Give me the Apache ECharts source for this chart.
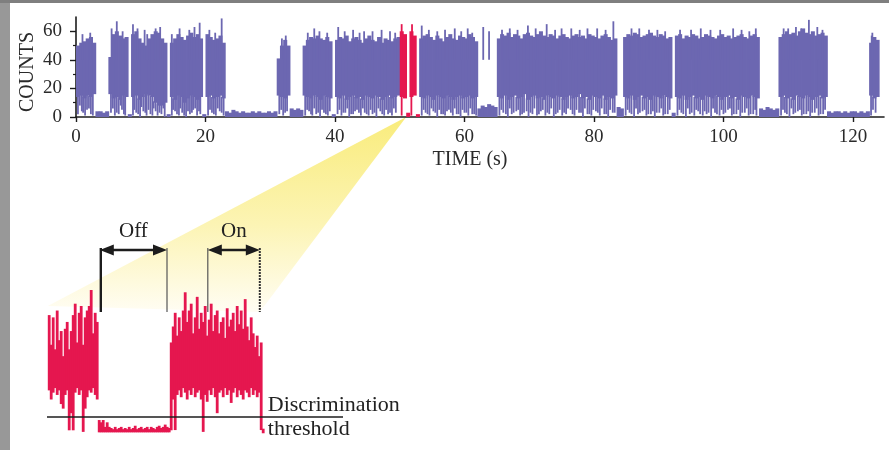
<!DOCTYPE html>
<html>
<head>
<meta charset="utf-8">
<script src="https://cdn.jsdelivr.net/npm/echarts@6/dist/echarts.min.js"></script>
<style>
  html, body { margin: 0; padding: 0; background: #fff; }
  #chart { width: 889px; height: 450px; }
  .edge { position: absolute; left: 0; top: 0; }
</style>
</head>
<body>
<div id="chart"></div>
<div class="edge" style="width:10px;height:450px;background:#989898"></div>
<div class="edge" style="width:889px;height:3px;background:#7f7f7f"></div>
<script>
// full trace, one value pair every 0.5 s (top of the dense band / bottom of it)
const step = 0.5;
const topHi = [
  50, 52, 53, 55, 56, 52,            // on 0-3
  4, 4, 3, 4,                        // off
  42, 58, 60, 57, 55, 56,            // on 5-8
  2,
  58, 60, 55, 52, 50, 55, 58, 60, 59, 55, 52,
  2,
  52, 55, 58, 56, 54, 57, 59, 56, 58, 55,
  2,
  58, 56, 54, 55, 57, 52,
  4, 3, 5, 4, 3, 4, 3, 3, 4, 3, 4, 3, 3, 4, 3, 4,   // off 23-31
  41, 50, 54, 50,
  6, 5, 6, 5,
  50, 54, 56, 55, 57, 55, 54, 56, 53,
  2,
  54, 56, 55, 57, 53, 55, 56, 54, 52, 55, 57, 54, 53, 56, 52, 55, 54, 53, 55, 56,
  60, 58, 3, 60, 57,                 // zoomed (red) part
  2,
  55, 57, 58, 56, 54, 57, 55, 53, 56, 58, 55, 54, 57, 56, 55, 58, 56, 53,
  6, 8, 7, 9, 8, 7,
  55, 58, 57, 59, 56, 58, 57, 55, 58, 59, 57, 56, 58, 60, 57, 56, 58, 57, 55,
  57, 58, 56, 55, 57, 58, 56, 57, 55, 58, 57, 56, 55, 57, 58, 56, 54, 55,
  7, 6,
  56, 58, 57, 59, 58, 56, 57, 58, 59, 57, 56, 58, 57, 55, 56,
  3,
  57, 58, 55, 57, 56, 58, 57, 55, 56, 58, 57, 56, 55, 57, 58, 56, 57, 55, 56, 57,
  58, 56, 55, 57, 58, 56,
  6, 5, 7, 6, 5, 6,
  56, 58, 60, 58, 59, 57, 60, 62, 59, 58, 60, 57, 58, 59, 57,
  4, 3, 4, 4, 3, 4, 3, 4, 4, 3, 4, 3, 4,
  52, 56, 54
];
const topLo = [
  14, 15, 13, 15, 14, 16,
  0, 0, 0, 0,
  16, 13, 14, 12, 15, 14,
  0,
  14, 15, 12, 14, 16, 15, 14, 10, 8, 8, 10,
  0,
  14, 12, 15, 14, 10, 13, 15, 14, 12, 14,
  0,
  14, 15, 13, 14, 15, 13,
  0, 0, 0, 0, 0, 0, 0, 0, 0, 0, 0, 0, 0, 0, 0, 0,
  15, 14, 13, 15,
  0, 0, 0, 0,
  15, 14, 13, 15, 14, 12, 15, 14, 13,
  0,
  14, 13, 15, 12, 14, 15, 13, 14, 12, 15, 14, 13, 15, 14, 12, 14, 15, 13, 14, 15,
  14, 13, 0, 14, 15,
  0,
  14, 13, 15, 14, 12, 15, 14, 13, 15, 14, 12, 14, 15, 13, 14, 15, 13, 14,
  0, 0, 0, 0, 0, 0,
  14, 13, 15, 12, 14, 15, 13, 14, 16, 12, 14, 15, 13, 14, 12, 15, 14, 13, 15,
  14, 12, 14, 15, 13, 14, 16, 13, 14, 12, 15, 14, 13, 15, 12, 14, 13, 15,
  0, 0,
  14, 13, 15, 12, 14, 15, 13, 14, 12, 15, 14, 13, 15, 14, 13,
  0,
  14, 13, 15, 12, 14, 15, 13, 14, 12, 15, 14, 13, 15, 14, 12, 14, 15, 13, 14, 12,
  15, 14, 13, 15, 14, 13,
  0, 0, 0, 0, 0, 0,
  14, 15, 13, 14, 12, 15, 14, 13, 15, 14, 12, 14, 15, 13, 14,
  0, 0, 0, 0, 0, 0, 0, 0, 0, 0, 0, 0, 0,
  15, 13, 14
];
// single bins dropping below the band [time, counts]
const dips = [
  [0.3, 2], [0.6, 8], [0.9, 4], [1.1, 3], [1.4, 1], [1.7, 5], [2.0, 6], [2.3, 2], [2.6, 1],
  [5.4, 3], [5.7, 6], [6.0, 1], [6.3, 3], [6.6, 2], [6.9, 8], [7.1, 5], [7.4, 2], [7.6, 1],
  [8.8, 1], [9.0, 5], [9.3, 3], [9.6, 2], [9.9, 0], [10.1, 7], [10.4, 4], [10.7, 3], [10.9, 1],
  [11.2, 5], [11.5, 2], [11.8, 1], [12.0, 6], [12.3, 4], [12.6, 1], [12.9, 3], [13.2, 2], [13.5, 6], [13.7, 0],
  [14.8, 1], [15.0, 5], [15.3, 4], [15.6, 2], [15.9, 1], [16.1, 6], [16.4, 3], [16.7, 1], [17.0, 0],
  [17.3, 4], [17.6, 2], [17.9, 3], [18.1, 5], [18.4, 6], [18.7, 1], [19.0, 4], [19.2, 2],
  [20.4, 1], [20.7, 5], [21.0, 3], [21.3, 2], [21.6, 1], [21.9, 6], [22.2, 4], [22.5, 3], [22.8, 1],
  [31.4, 2], [31.7, 5], [32.0, 1], [32.3, 3], [32.6, 4],
  [35.4, 1], [35.7, 5], [36.0, 4], [36.3, 2], [36.5, 1], [36.8, 6], [37.1, 2], [37.4, 3], [37.7, 0],
  [38.0, 5], [38.3, 3], [38.6, 2], [38.9, 1], [39.2, 4],
  [40.4, 2], [40.7, 5], [41.0, 1], [41.3, 3], [41.6, 3], [41.9, 6], [42.2, 0], [42.5, 2], [42.8, 2],
  [43.1, 4], [43.4, 5], [43.7, 3], [44.0, 1], [44.3, 6], [44.6, 3], [44.9, 2], [45.2, 1], [45.5, 5],
  [45.8, 2], [46.1, 3], [46.4, 0], [46.7, 6], [47.0, 4], [47.3, 2], [47.6, 1], [47.9, 5], [48.2, 2],
  [48.5, 3], [48.8, 1], [49.1, 6], [49.4, 3],
  [50.3, 1], [51.8, 1],
  [53.4, 1], [53.7, 5], [54.0, 3], [54.3, 2], [54.6, 1], [54.9, 6], [55.2, 4], [55.5, 3], [55.8, 0],
  [56.1, 5], [56.4, 2], [56.7, 2], [57.0, 1], [57.3, 4], [57.6, 5], [57.9, 3], [58.2, 1], [58.5, 6],
  [58.8, 2], [59.1, 2], [59.4, 0], [59.7, 5], [60.0, 3], [60.3, 3], [60.6, 1], [60.9, 6], [61.2, 2],
  [61.5, 2], [61.8, 1],
  [65.4, 1], [65.7, 5], [66.0, 3], [66.4, 2], [66.7, 0], [67.0, 6], [67.3, 2], [67.6, 3], [68.0, 4],
  [68.3, 5], [68.6, 1], [68.9, 2], [69.2, 3], [69.6, 4], [69.9, 0], [70.2, 3], [70.5, 2], [70.8, 6],
  [71.2, 1], [71.5, 2], [71.8, 4], [72.1, 5], [72.5, 1], [72.8, 3], [73.1, 2], [73.4, 6], [73.8, 0],
  [74.1, 2], [74.4, 3], [74.7, 5], [75.1, 1], [75.4, 3], [75.7, 2], [76.0, 6], [76.4, 5], [76.7, 2],
  [77.0, 1], [77.3, 5], [77.7, 3], [78.0, 3], [78.3, 0], [78.6, 6], [79.0, 2], [79.3, 2], [79.6, 1],
  [79.9, 5], [80.3, 4], [80.6, 3], [80.9, 1], [81.2, 6], [81.6, 2], [81.9, 2], [82.2, 0], [82.5, 5],
  [82.9, 3], [83.2, 3],
  [84.9, 1], [85.2, 5], [85.5, 3], [85.8, 2], [86.2, 0], [86.5, 6], [86.8, 2], [87.1, 3], [87.5, 4],
  [87.8, 5], [88.1, 1], [88.4, 2], [88.8, 2], [89.1, 4], [89.4, 0], [89.7, 3], [90.1, 3], [90.4, 6],
  [90.7, 1], [91.0, 2], [91.4, 2], [91.7, 5],
  [92.9, 1], [93.2, 5], [93.5, 3], [93.8, 2], [94.2, 0], [94.5, 6], [94.8, 2], [95.1, 3], [95.5, 1],
  [95.8, 5], [96.1, 4], [96.4, 2], [96.8, 1], [97.1, 4], [97.4, 2], [97.7, 3], [98.1, 0], [98.4, 6],
  [98.7, 3], [99.0, 2], [99.4, 1], [99.7, 5], [100.0, 2], [100.3, 3], [100.7, 5], [101.0, 6], [101.3, 1],
  [101.6, 2], [102.0, 2], [102.3, 5], [102.6, 0], [102.9, 3], [103.3, 3], [103.6, 6], [103.9, 1],
  [104.2, 2], [104.6, 2], [104.9, 5], [105.1, 1],
  [108.9, 1], [109.2, 5], [109.5, 3], [109.8, 2], [110.2, 0], [110.5, 6], [110.8, 2], [111.1, 3],
  [111.5, 4], [111.8, 5], [112.1, 1], [112.4, 2], [112.8, 2], [113.1, 4], [113.4, 0], [113.7, 3],
  [114.1, 3], [114.4, 6], [114.7, 1], [115.0, 2], [115.4, 2], [115.7, 5],
  [122.8, 1], [123.1, 5], [123.5, 3]
];
// single bins shooting above the band [time, counts]
const peaks = [
  [1.0, 58], [2.2, 59], [5.5, 62], [6.3, 67], [7.2, 60], [8.8, 65], [9.5, 62], [10.6, 61],
  [11.0, 58], [12.3, 62], [13.0, 63], [14.8, 58], [16.0, 62], [17.5, 61], [18.3, 63], [19.1, 66],
  [20.6, 61], [21.5, 59], [22.5, 69], [24.3, 10], [31.8, 55], [32.4, 57], [35.8, 59], [36.8, 62],
  [37.6, 60], [38.8, 59], [40.5, 63], [41.5, 60], [42.8, 61], [43.8, 59], [44.5, 60], [45.8, 60],
  [47.2, 61], [48.5, 60], [49.3, 59], [50.3, 65], [51.9, 65], [53.4, 64], [54.5, 61], [55.8, 60],
  [57.0, 61], [58.5, 62], [59.5, 60], [60.5, 62], [61.2, 59], [62.9, 63], [63.2, 30], [63.8, 60],
  [65.8, 61], [67.0, 62], [68.2, 61], [69.8, 64], [71.0, 62], [72.7, 65], [74.0, 61], [75.0, 62],
  [76.5, 62], [77.8, 61], [79.0, 62], [80.5, 62], [81.8, 61], [83.0, 67], [85.8, 62], [87.0, 62],
  [88.5, 61], [89.8, 61], [91.0, 60], [93.3, 61], [95.0, 61], [96.5, 62], [98.0, 61], [99.5, 61],
  [101.5, 62], [102.8, 61], [104.0, 60], [105.0, 62], [107.9, 14], [109.3, 62], [110.0, 62],
  [111.2, 63], [112.0, 62], [113.2, 68], [114.5, 63], [115.3, 61], [122.9, 57], [123.0, 59]
];
const redRange = [49.75, 52.5];
const xTicks = [0, 20, 40, 60, 80, 100, 120];
const yTicks = [0, 20, 40, 60];
const yMinor = [10, 30, 50];

// zoomed part, one value pair every 0.025 s
const zoomStart = 49.70;
const zoomStep = 0.025;
const zoomHi = [
  53, 40, 52, 38, 55, 42, 46, 35, 47, 50, 38, 46, 53, 58, 41, 54, 57, 40, 52, 55, 57, 64, 45, 54, 50,
  7, 6, 7, 4, 6, 4, 3.5, 3, 4, 3, 3.5, 4, 3, 3.5, 3, 4, 3, 3.5, 4.5, 3,
  3.5, 4, 3, 3.5, 4, 3, 4, 3.5, 3, 4, 4.5, 3.5, 4, 5, 4, 3.5,
  41, 48, 54, 44, 52, 46, 55, 63, 50, 55, 58, 45, 52, 61, 47, 54, 50, 57, 44, 51,
  58, 46, 53, 55, 45, 50, 52, 43, 56, 48, 51, 54, 46, 57, 49, 55, 47, 60, 48, 42,
  52, 45, 39, 44, 35, 41,
  3.2
];
const zoomLo = [
  20, 16, 19, 21, 18, 20, 14, 12, 18, 20, 2.5, 10, 2.5, 19, 21, 18, 20, 1.8, 12, 17, 20, 19, 21, 18, 16,
  1.6, 1.6, 1.6, 1.6, 1.6, 1.6, 1.6, 1.6, 1.6, 1.6, 1.6, 1.6, 1.6, 1.6, 1.6, 1.6, 1.6, 1.6, 1.6, 1.6,
  1.6, 1.6, 1.6, 1.6, 1.6, 1.6, 1.6, 1.6, 1.6, 1.6, 1.6, 1.6, 1.6, 1.6, 1.6, 1.6,
  2.5, 16, 2.6, 18, 20, 17, 21, 19, 16, 20, 18, 21, 17, 19, 20, 16, 1.8, 18, 15, 20,
  18, 21, 17, 10, 19, 20, 17, 21, 18, 20, 14.5, 19, 21, 17, 20, 18, 16, 20, 19, 17,
  21, 18, 20, 17, 19, 2.6,
  1.2
];
const threshold = 8.3;
const offSpan = [50.35, 51.19];
const onSpan = [51.70, 52.35];
const fanApexT = 51.0;

const purple = '#6C67B1';
const red = '#E5174F';
const ink = '#1c1c1c';
const serif = 'Liberation Serif';

const colorAt = t => (t >= redRange[0] && t <= redRange[1] ? red : purple);

const topData = topHi.map((v, i) => [i * step, v, topLo[i]]);
const streakData = dips.map(([t, v]) => [t, v, topLo[Math.floor(t / step)] + 1])
  .concat(peaks.map(([t, v]) => [t, Math.min(40, v), v]));
const zoomData = zoomHi.map((v, i) => [zoomStart + i * zoomStep, v, zoomLo[i]]);

function bandRender(dt, colorFn) {
  return function (params, api) {
    const t = api.value(0);
    const a = api.coord([t, api.value(1)]);
    const b = api.coord([t + dt, api.value(2)]);
    return {
      type: 'rect',
      shape: { x: a[0], y: a[1], width: b[0] - a[0] + 0.8, height: b[1] - a[1] },
      style: { fill: colorFn(t) }
    };
  };
}

function streakRender(params, api) {
  const t = api.value(0);
  const p0 = api.coord([t, api.value(1)]);
  const p1 = api.coord([t, api.value(2)]);
  return {
    type: 'rect',
    shape: { x: p0[0] - 0.9, y: p1[1], width: 1.8, height: p0[1] - p1[1] },
    style: { fill: colorAt(t) }
  };
}

const chart = echarts.init(document.getElementById('chart'));
const labelStyle = { fontFamily: serif, fontSize: 19, color: '#2a2a2a' };

chart.setOption({
  backgroundColor: '#fff',
  animation: false,
  grid: [
    { left: 76, top: 17, width: 808, height: 100 },
    { left: 47, top: 290, width: 296, height: 146 }
  ],
  xAxis: [
    {
      type: 'value', gridIndex: 0, min: 0, max: 124.8,
      axisLine: { show: true, lineStyle: { color: ink, width: 1.6 } },
      axisTick: { show: true, customValues: xTicks, length: 5, lineStyle: { color: ink, width: 1.4 } },
      axisLabel: Object.assign({ customValues: xTicks, margin: 11 }, labelStyle),
      splitLine: { show: false },
      name: 'TIME (s)', nameLocation: 'middle', nameGap: 33, nameMoveOverlap: false,
      nameTextStyle: { fontFamily: serif, fontSize: 20, color: '#2a2a2a', padding: [0, 20, 0, 0] }
    },
    { type: 'value', gridIndex: 1, min: 49.69, max: 53.39, show: false }
  ],
  yAxis: [
    {
      type: 'value', gridIndex: 0, min: 0, max: 70, position: 'left',
      axisLine: { show: true, lineStyle: { color: ink, width: 1.6 } },
      axisTick: { show: true, customValues: yTicks, length: 6, lineStyle: { color: ink, width: 1.4 } },
      axisLabel: Object.assign({ customValues: yTicks, margin: 14 }, labelStyle),
      splitLine: { show: false },
      name: 'COUNTS', nameLocation: 'middle', nameRotate: 90, nameGap: 38, nameMoveOverlap: false,
      nameTextStyle: { fontFamily: serif, fontSize: 20, color: '#2a2a2a', padding: [0, 10, 0, 0] }
    },
    {
      type: 'value', gridIndex: 0, min: 0, max: 70, position: 'left', offset: 0,
      axisLine: { show: false },
      axisTick: { show: true, customValues: yMinor, length: 3, lineStyle: { color: ink, width: 1.2 } },
      axisLabel: { show: false },
      splitLine: { show: false }
    },
    { type: 'value', gridIndex: 1, min: 0, max: 64, show: false }
  ],
  series: [
    {
      type: 'custom', xAxisIndex: 0, yAxisIndex: 0,
      renderItem: bandRender(step, colorAt),
      encode: { x: 0, y: [1, 2] },
      data: topData, z: 3
    },
    {
      type: 'custom', xAxisIndex: 0, yAxisIndex: 0,
      renderItem: streakRender,
      encode: { x: 0, y: [1, 2] },
      data: streakData, z: 3
    },
    {
      type: 'custom', xAxisIndex: 1, yAxisIndex: 2,
      renderItem: bandRender(zoomStep, () => red),
      encode: { x: 0, y: [1, 2] },
      data: zoomData, z: 3,
      markLine: {
        silent: true, symbol: 'none', label: { show: false },
        lineStyle: { color: ink, width: 1.6, type: 'solid' },
        data: [{ yAxis: threshold }]
      }
    }
  ]
});

// annotations placed from the axes
const apex = chart.convertToPixel({ seriesIndex: 0 }, [fanApexT, 0]);
const fanL = chart.convertToPixel({ seriesIndex: 2 }, [zoomStart, 57]);
const fanR = chart.convertToPixel({ seriesIndex: 2 }, [onSpan[1], 54.4]);
const xOff0 = chart.convertToPixel({ seriesIndex: 2 }, [offSpan[0], 0])[0];
const xOff1 = chart.convertToPixel({ seriesIndex: 2 }, [offSpan[1], 0])[0];
const xOn0 = chart.convertToPixel({ seriesIndex: 2 }, [onSpan[0], 0])[0];
const xOn1 = chart.convertToPixel({ seriesIndex: 2 }, [onSpan[1], 0])[0];
const xText = chart.convertToPixel({ seriesIndex: 2 }, [zoomStart + zoomHi.length * zoomStep, 0])[0] + 4;

const arrowY = 250;
const tickEnd = 312;

function arrow(x0, x1) {
  const h = 14, w = 5.5;
  return [
    { type: 'line', z: 20, shape: { x1: x0 + 8, y1: arrowY, x2: x1 - 8, y2: arrowY }, style: { stroke: ink, lineWidth: 2.6 } },
    { type: 'polygon', z: 20, shape: { points: [[x0, arrowY], [x0 + h, arrowY - w], [x0 + h, arrowY + w]] }, style: { fill: ink } },
    { type: 'polygon', z: 20, shape: { points: [[x1, arrowY], [x1 - h, arrowY - w], [x1 - h, arrowY + w]] }, style: { fill: ink } }
  ];
}
function vline(x, width, color, dash) {
  return { type: 'line', z: 20, shape: { x1: x, y1: arrowY - 2, x2: x, y2: tickEnd },
    style: { stroke: color, lineWidth: width, lineDash: dash || null } };
}
function label(text, x, y, align, size) {
  return { type: 'text', z: 20, x: x, y: y,
    style: { text: text, fontFamily: serif, fontSize: size, fill: '#222', align: align, verticalAlign: 'middle' } };
}

chart.setOption({
  graphic: [
    {
      type: 'polygon', z: 0,
      shape: { points: [apex, fanL, fanR] },
      style: {
        fill: new echarts.graphic.LinearGradient(0, 0, 0, 1, [
          { offset: 0, color: '#F9EC7C' },
          { offset: 0.55, color: '#FCF4B4' },
          { offset: 1, color: '#FFFDF3' }
        ])
      }
    },
    vline(xOff0 + 1, 2.4, ink),
    vline(xOff1, 1.2, '#555'),
    vline(xOn0, 1.2, '#555'),
    vline(xOn1, 2, '#333', [2, 1]),
    ...arrow(xOff0, xOff1),
    ...arrow(xOn0, xOn1),
    label('Off', (xOff0 + xOff1) / 2, 231, 'center', 21),
    label('On', (xOn0 + xOn1) / 2, 231, 'center', 21),
    label('Discrimination', xText, 405, 'left', 22),
    label('threshold', xText, 429, 'left', 22)
  ]
});
</script>
</body>
</html>
